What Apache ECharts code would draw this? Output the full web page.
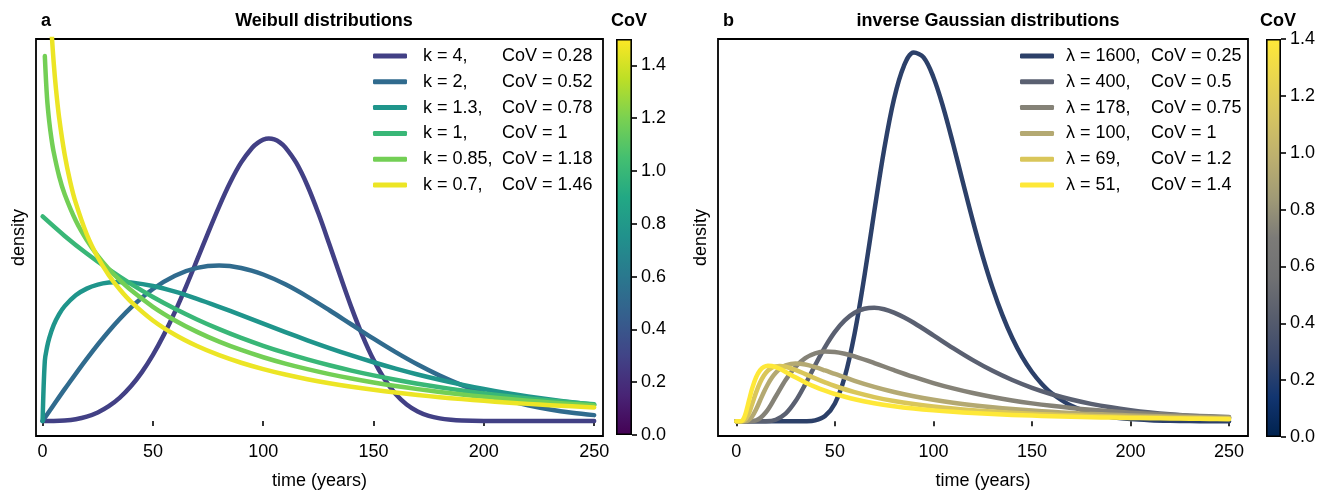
<!DOCTYPE html>
<html>
<head>
<meta charset="utf-8">
<title>Weibull / inverse Gaussian</title>
<script src="https://cdn.jsdelivr.net/npm/echarts@6/dist/echarts.min.js"></script>
<style>
  html, body { margin: 0; padding: 0; background: #fff; }
  #chart { width: 1333px; height: 495px; }
</style>
</head>
<body>
<div id="chart"></div>
<script>
// panel a: Weibull, density x 1000
var kValues = [4, 2, 1.3, 1, 0.85, 0.7];
var covWeibull = [0.28, 0.52, 0.78, 1, 1.18, 1.46];

var tK4 = [0,5,10,15,20,25,30,35,40,45,50,55,60,65,70,75,80,85,90,95,97.5,100,102.5,105,107.5,110,115,120,125,130,135,140,145,150,155,160,165,170,175,180,185,190,200,210,220,230,240,250];
var dK4 = [0,0.003,0.027,0.091,0.216,0.421,0.725,1.146,1.698,2.393,3.235,4.223,5.342,6.573,7.874,9.198,10.483,11.657,12.64,13.359,13.596,13.748,13.802,13.76,13.617,13.376,12.612,11.512,10.151,8.63,7.06,5.543,4.167,2.99,2.044,1.327,0.814,0.473,0.258,0.132,0.063,0.028,0.004,0,0,0,0,0];

var tK2 = [0,5,10,20,30,40,50,60,70,80,90,100,110,120,130,140,150,160,170,180,190,200,210,220,230,240,250];
var dK2 = [0,0.784,1.559,3.044,4.391,5.541,6.454,7.104,7.483,7.601,7.483,7.162,6.681,6.083,5.415,4.718,4.025,3.366,2.759,2.22,1.752,1.358,1.033,0.772,0.567,0.409,0.29];

var tK13 = [0,1,2,3,5,7.5,10,15,20,25,30,35,40,50,60,70,80,90,100,110,120,130,140,150,160,170,180,190,200,210,220,230,240,250];
var dK13 = [0,2.939,3.606,4.056,4.686,5.225,5.616,6.147,6.472,6.666,6.766,6.796,6.772,6.602,6.323,5.974,5.584,5.174,4.758,4.347,3.948,3.568,3.209,2.874,2.563,2.277,2.017,1.78,1.566,1.375,1.203,1.05,0.914,0.794];

var tK1 = [0,10,20,30,40,50,60,70,80,90,100,110,120,130,140,150,160,170,180,190,200,210,220,230,240,250];
var dK1 = [10,9.048,8.187,7.408,6.703,6.065,5.488,4.966,4.493,4.066,3.679,3.329,3.012,2.725,2.466,2.231,2.019,1.827,1.653,1.496,1.353,1.225,1.108,1.003,0.907,0.821];

var tK085 = [1,2,3,4,5,7.5,10,15,20,25,30,35,40,50,60,70,80,90,100,110,120,130,140,150,160,170,180,190,200,210,220,230,240,250];
var dK085 = [17.834,15.799,14.632,13.803,13.156,11.958,11.082,9.797,8.843,8.077,7.436,6.883,6.399,5.583,4.916,4.358,3.882,3.474,3.119,2.808,2.535,2.293,2.078,1.886,1.715,1.561,1.423,1.299,1.187,1.086,0.994,0.91,0.835,0.766];

var tK07 = [2,3,4,5,6,7.5,10,12.5,15,20,25,30,35,40,50,60,70,80,90,100,110,120,130,140,150,160,170,180,190,200,210,220,230,240,250];
var dK07 = [24.736,21.361,19.157,17.544,16.287,14.815,13.019,11.7,10.671,9.129,8.004,7.13,6.426,5.84,4.917,4.218,3.666,3.219,2.849,2.538,2.274,2.047,1.85,1.678,1.526,1.392,1.274,1.167,1.072,0.987,0.91,0.84,0.777,0.72,0.668];

// panel b: inverse Gaussian
var lambdaValues = [1600, 400, 178, 100, 69, 51];
var covIG = ['0.25', '0.5', '0.75', '1', '1.2', '1.4'];

var tL1600 = [0,20,30,35,40,45,50,55,60,65,70,75,80,85,90,95,100,105,110,115,120,125,130,135,140,145,150,155,160,170,180,190,200,210,220,230,240,250];
var dL1600 = [0,0,0.0002,0.0049,0.0471,0.2442,0.8267,2.0569,4.0669,6.7428,9.7418,12.6143,14.949,16.4775,17.1004,16.8756,15.958,14.552,12.862,11.066,9.298,7.654,6.188,4.923,3.861,2.99,2.29,1.735,1.303,0.7176,0.3843,0.2012,0.1033,0.0522,0.026,0.0128,0.0062,0.003];

var tL400 = [0,10,15,20,25,30,35,40,45,50,55,60,65,70,75,80,85,90,100,110,120,130,140,150,160,170,180,190,200,210,220,230,240,250];
var dL400 = [0,0,0.0045,0.0741,0.3546,0.9257,1.7227,2.6067,3.4451,4.151,4.6834,5.0359,5.2224,5.2674,5.1992,5.0446,4.8283,4.5698,3.9894,3.3956,2.8392,2.3435,1.9163,1.556,1.2569,1.0114,0.8113,0.6493,0.5189,0.4141,0.3302,0.2631,0.2095,0.1668];

var tL178 = [0,5,10,15,20,25,30,35,40,45,50,55,60,70,80,90,100,110,120,130,140,150,160,170,180,190,200,210,220,230,240,250];
var dL178 = [0,0,0.0415,0.4201,1.1502,1.9171,2.5247,2.9278,3.1496,3.2329,3.2174,3.1359,3.0126,2.7032,2.3728,2.0586,1.7751,1.5262,1.3109,1.126,0.968,0.833,0.7179,0.6197,0.5357,0.4638,0.4022,0.3493,0.3038,0.2646,0.2308,0.2016];

var tL100 = [0,2,4,6,8,10,12,14,16,18,20,22,25,30,35,40,45,50,60,70,80,90,100,110,120,130,140,150,160,170,180,190,200,210,220,230,240,250];
var dL100 = [0,0,0.0013,0.043,0.2223,0.5495,0.9522,1.3566,1.7182,2.0175,2.2513,2.425,2.5903,2.6821,2.6342,2.5138,2.3607,2.1969,1.8781,1.597,1.3594,1.1616,0.9974,0.8605,0.7462,0.65,0.5687,0.4995,0.4404,0.3896,0.3458,0.3077,0.2746,0.2457,0.2204,0.198,0.1783,0.1609];

var tL69 = [0,2,4,6,8,10,12,14,16,18,20,22,25,30,35,40,45,50,60,70,80,90,100,110,120,130,140,150,160,170,180,190,200,210,220,230,240,250];
var dL69 = [0,0,0.0304,0.2911,0.7903,1.3308,1.7866,2.1234,2.3488,2.4842,2.5512,2.5689,2.5336,2.3844,2.1918,1.9946,1.8082,1.6383,1.3509,1.1243,0.9455,0.8031,0.6883,0.5947,0.5176,0.4534,0.3994,0.3537,0.3147,0.2811,0.2521,0.2269,0.2048,0.1854,0.1683,0.1531,0.1397,0.1277];

var tL51 = [0,2,3,4,5,6,7,8,10,12,14,16,18,20,22,25,30,35,40,45,50,60,70,80,90,100,110,120,130,140,150,160,170,180,190,200,210,220,230,240,250];
var dL51 = [0,0.0009,0.0329,0.1786,0.4559,0.8093,1.176,1.5138,2.0388,2.36,2.524,2.5809,2.5688,2.5142,2.4347,2.2922,2.0406,1.8053,1.5979,1.4192,1.2662,1.0223,0.8403,0.7017,0.5939,0.5085,0.4398,0.3836,0.3371,0.2982,0.2653,0.2373,0.2132,0.1923,0.1742,0.1583,0.1443,0.1319,0.1209,0.1111,0.1023];

var timeTicks = [0, 50, 100, 150, 200, 250];
var covTicksA = [0, 0.2, 0.4, 0.6, 0.8, 1.0, 1.2, 1.4];
var covTicksB = [0, 0.2, 0.4, 0.6, 0.8, 1.0, 1.2, 1.4];
var covRangeA = [0, 1.5];
var covRangeB = [0, 1.4];

var weibullColors = ['#424085', '#306b8e', '#1f958b', '#39b777', '#73cf55', '#ece525'];
var igColors = ['#2c4069', '#5a6071', '#858277', '#b4a972', '#d9c65a', '#fee838'];
var viridisStops = ['#440154','#482475','#414487','#355f8d','#2a788e','#21918c','#22a884','#44bf70','#7ad151','#bddf26','#fde725'];
var cividisStops = ['#00224e','#123570','#3b496c','#575d6d','#707173','#7c7b78','#a09a76','#bcaf6f','#d4c362','#e9d54f','#fee838'];

var FONT = '"Liberation Sans", Arial, "DejaVu Sans", sans-serif';

function pairs(ts, ds) {
  return ts.map(function (t, i) { return [t, ds[i]]; });
}

function gradient(colors) {
  var stops = colors.map(function (c, i) { return { offset: i / (colors.length - 1), color: c }; });
  return new echarts.graphic.LinearGradient(0, 1, 0, 0, stops);
}

var weibullT = [tK4, tK2, tK13, tK1, tK085, tK07];
var weibullD = [dK4, dK2, dK13, dK1, dK085, dK07];
var igT = [tL1600, tL400, tL178, tL100, tL69, tL51];
var igD = [dL1600, dL400, dL178, dL100, dL69, dL51];

var kNames = kValues.map(function (k) { return 'k = ' + k; });
var lNames = lambdaValues.map(function (l) { return 'λ = ' + l; });

var series = [];
kNames.forEach(function (name, i) {
  series.push({
    name: name, type: 'line', xAxisIndex: 0, yAxisIndex: 0,
    data: pairs(weibullT[i], weibullD[i]),
    showSymbol: false, symbol: 'none', smooth: 0.35, clip: true,
    lineStyle: { color: weibullColors[i], width: 4.5, cap: 'round', join: 'round' },
    itemStyle: { color: weibullColors[i] }
  });
});
lNames.forEach(function (name, i) {
  series.push({
    name: name, type: 'line', xAxisIndex: 1, yAxisIndex: 1,
    data: pairs(igT[i], igD[i]),
    showSymbol: false, symbol: 'none', smooth: 0.35, clip: true,
    lineStyle: { color: igColors[i], width: 4.5, cap: 'round', join: 'round' },
    itemStyle: { color: igColors[i] }
  });
});
// colour bars
series.push({
  type: 'bar', xAxisIndex: 2, yAxisIndex: 2, data: [covRangeA[1]], barWidth: '100%',
  itemStyle: { color: gradient(viridisStops), borderColor: '#000', borderWidth: 1.6 }, silent: true
});
series.push({
  type: 'bar', xAxisIndex: 3, yAxisIndex: 3, data: [covRangeB[1]], barWidth: '100%',
  itemStyle: { color: gradient(cividisStops), borderColor: '#000', borderWidth: 1.6 }, silent: true
});

function timeAxis(idx, min, max) {
  return {
    type: 'value', gridIndex: idx, min: min, max: max,
    name: 'time (years)', nameLocation: 'middle', nameGap: 36,
    nameTextStyle: { fontSize: 18, color: '#000', fontFamily: FONT },
    axisLine: { show: false },
    axisTick: { show: true, customValues: timeTicks, length: 5, lineStyle: { color: '#000', width: 1.6 } },
    axisLabel: { customValues: timeTicks, fontSize: 18, color: '#000', fontFamily: FONT, margin: 7 },
    splitLine: { show: false }
  };
}
function densityAxis(idx, min, max) {
  return {
    type: 'value', gridIndex: idx, min: min, max: max,
    name: 'density', nameLocation: 'middle', nameGap: 8, nameRotate: 90,
    nameTextStyle: { fontSize: 18, color: '#000', fontFamily: FONT },
    axisLine: { show: false }, axisTick: { show: false }, axisLabel: { show: false },
    splitLine: { show: false }
  };
}
function cbarY(idx, range, ticks) {
  return {
    type: 'value', gridIndex: idx, min: range[0], max: range[1], position: 'right',
    axisLine: { show: false },
    axisTick: { show: true, customValues: ticks, length: 5, lineStyle: { color: '#000', width: 1.6 } },
    axisLabel: { customValues: ticks, fontSize: 18, color: '#000', fontFamily: FONT, margin: 9,
      formatter: function (v) { return v.toFixed(1); } },
    splitLine: { show: false }
  };
}
function legendFor(names, left, colW, padL, labelFn) {
  return {
    data: names, orient: 'vertical', left: left, top: 47, padding: 0,
    itemWidth: 34, itemHeight: 5, itemGap: 7.8, icon: 'roundRect',
    textStyle: {
      fontFamily: FONT, fontSize: 18, color: '#000',
      rich: {
        a: { fontFamily: FONT, fontSize: 18, color: '#000', width: colW, padding: [0, 0, 0, padL], lineHeight: 20 },
        b: { fontFamily: FONT, fontSize: 18, color: '#000', lineHeight: 20 }
      }
    },
    formatter: labelFn
  };
}

var titleStyle = { fontSize: 18, fontWeight: 'bold', color: '#000', fontFamily: FONT };

var myChart = echarts.init(document.getElementById('chart'), null, { renderer: 'canvas' });
myChart.setOption({
  animation: false,
  backgroundColor: '#fff',
  title: [
    { text: 'a', left: 36, top: 7, textStyle: titleStyle },
    { text: 'Weibull distributions', left: 319, top: 7, textAlign: 'center', textStyle: titleStyle },
    { text: 'CoV', left: 624, top: 7, textAlign: 'center', textStyle: titleStyle },
    { text: 'b', left: 718, top: 7, textStyle: titleStyle },
    { text: 'inverse Gaussian distributions', left: 983, top: 7, textAlign: 'center', textStyle: titleStyle },
    { text: 'CoV', left: 1273, top: 7, textAlign: 'center', textStyle: titleStyle }
  ],
  legend: [
    legendFor(kNames, 373, 79, 11, function (name) {
      var i = kNames.indexOf(name);
      return '{a|k = ' + kValues[i] + ',}{b|CoV = ' + covWeibull[i] + '}';
    }),
    legendFor(lNames, 1020, 85, 7, function (name) {
      var i = lNames.indexOf(name);
      return '{a|λ = ' + lambdaValues[i] + ',}{b|CoV = ' + covIG[i] + '}';
    })
  ],
  grid: [
    { left: 36, top: 39, width: 567, height: 397, show: true, borderColor: '#000', borderWidth: 1.8, backgroundColor: 'transparent' },
    { left: 718, top: 39, width: 530, height: 398, show: true, borderColor: '#000', borderWidth: 1.8, backgroundColor: 'transparent' },
    { left: 616, top: 39, width: 16, height: 396 },
    { left: 1266, top: 39, width: 15, height: 398 }
  ],
  xAxis: [
    timeAxis(0, -3, 254),
    timeAxis(1, -9.3, 259.6),
    { type: 'category', gridIndex: 2, data: ['CoV'], show: false },
    { type: 'category', gridIndex: 3, data: ['CoV'], show: false }
  ],
  yAxis: [
    densityAxis(0, -0.73, 18.67),
    densityAxis(1, -0.68, 17.73),
    cbarY(2, covRangeA, covTicksA),
    cbarY(3, covRangeB, covTicksB)
  ],
  series: series
});
</script>
</body>
</html>
